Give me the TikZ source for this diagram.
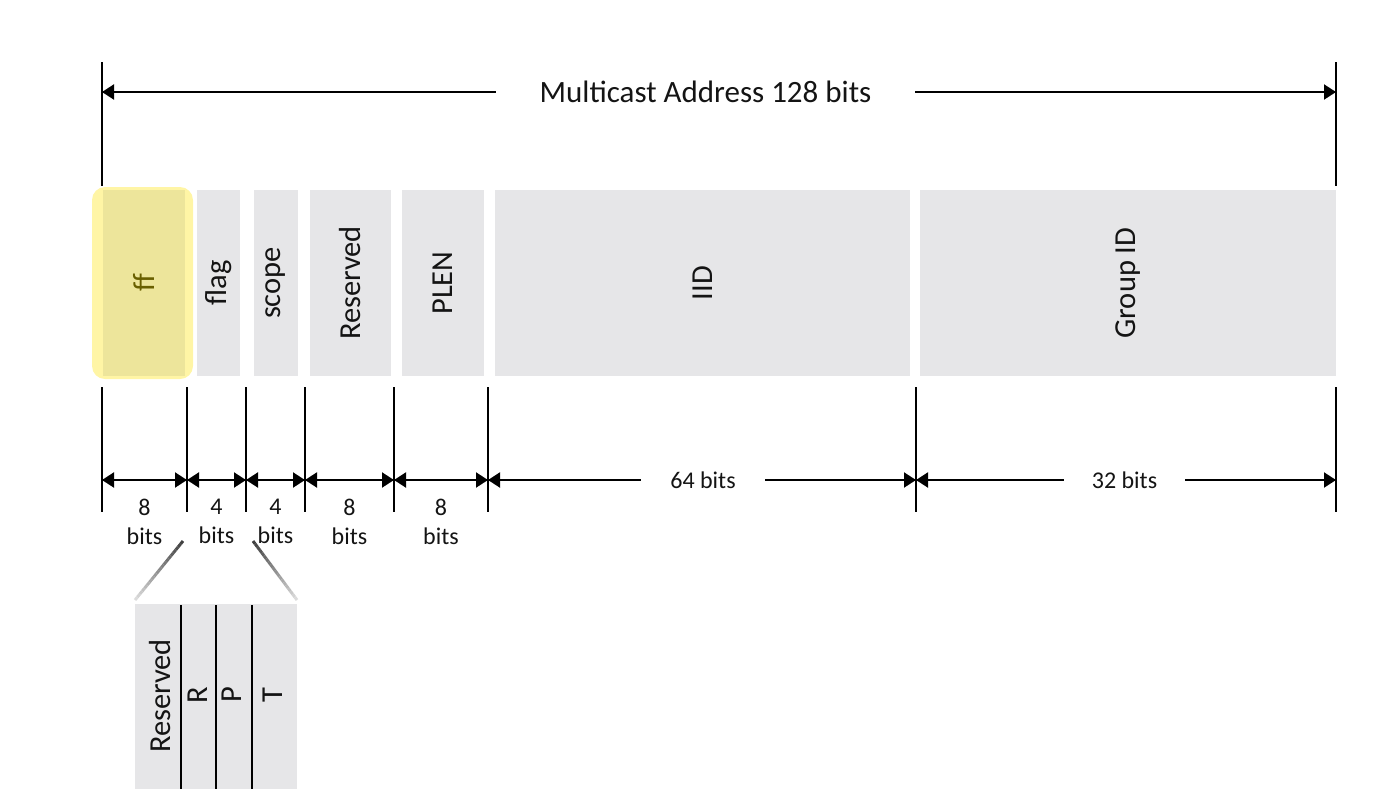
\documentclass[tikz,border=0pt]{standalone}
\usepackage{fontspec}
\setmainfont{Carlito}
\usetikzlibrary{arrows.meta,calc}
\definecolor{boxgray}{RGB}{230,230,232}
\definecolor{glow}{RGB}{255,245,165}
\definecolor{ffin}{RGB}{237,229,155}
\definecolor{fftext}{RGB}{105,95,0}
\definecolor{inkc}{RGB}{20,20,20}
\begin{document}
\begin{tikzpicture}[x=1pt,y=-1pt,
  field/.style={fill=boxgray, inner sep=0pt, outer sep=0pt, rotate=90, minimum width=186pt},
  lab/.style={font=\fontsize{30.5}{32}\selectfont, text=inkc},
  tick/.style={line width=2pt, line cap=butt},
  dim/.style={line width=2pt, {Triangle[length=12pt,width=15pt]}-{Triangle[length=12pt,width=15pt]}},
  bitlbl/.style={font=\fontsize{24}{29}\selectfont, align=center, inner sep=0pt, text=inkc},
  gaplbl/.style={font=\fontsize{24}{26}\selectfont, fill=white, inner ysep=2pt, text=inkc},
]
\useasboundingbox (0,0) rectangle (1386,807);

% ---- top dimension
\coordinate (TLt) at (102,62); \coordinate (TLb) at (102,186);
\coordinate (TRt) at (1336,62); \coordinate (TRb) at (1336,186);
\draw[tick] (TLt) -- (TLb);
\draw[tick] (TRt) -- (TRb);
\coordinate (TL) at (102,92); \coordinate (TR) at (1336,92);
\draw[dim] (TL) -- (TR);
\node[gaplbl, font=\fontsize{31}{33}\selectfont, inner xsep=44pt] (title) at (705.5,92) {Multicast Address 128 bits};

% ---- fields
\fill[glow, rounded corners=13pt] (92,187) rectangle (193,379);
\node[field, fill=ffin, lab, text=fftext, minimum height=82pt] (ff) at (144,283) {ff};
\node[field, lab, minimum height=43pt] (flag) at (218.5,283) {flag};
\node[field, lab, minimum height=44pt] (scope) at (276,283) {scope};
\node[field, lab, minimum height=81pt] (res) at (350.5,283) {Reserved};
\node[field, lab, minimum height=82pt] (plen) at (443,283) {PLEN};
\node[field, lab, minimum height=415pt] (iid) at (702.5,283) {IID};
\node[field, lab, minimum height=416pt] (gid) at (1128,283) {Group ID};

% ---- bottom ticks
\foreach \n/\x in {0/102,1/187,2/246,3/305,4/394,5/488,6/916,7/1336}{
  \coordinate (t\n) at (\x,480);
  \draw[tick] (\x,387) -- (\x,512);
}
\draw[dim] (t0) -- (t1);
\draw[dim] (t1) -- (t2);
\draw[dim] (t2) -- (t3);
\draw[dim] (t3) -- (t4);
\draw[dim] (t4) -- (t5);
\draw[dim] (t5) -- (t6);
\draw[dim] (t6) -- (t7);
\node[gaplbl, inner xsep=29pt] (b64) at (703,480) {64 bits};
\node[gaplbl, inner xsep=28pt] (b32) at (1124.5,480) {32 bits};
\node[bitlbl] (l0) at (144.5,521.5) {8\\bits};
\node[bitlbl] (l1) at (216.5,521.5) {4\\bits};
\node[bitlbl] (l2) at (275.5,521.5) {4\\bits};
\node[bitlbl] (l3) at (349.5,521.5) {8\\bits};
\node[bitlbl] (l4) at (441,521.5) {8\\bits};

% ---- flag detail
\node[fill=boxgray, inner sep=0pt, minimum width=162pt, minimum height=185pt] (detail) at (216,696.5) {};
\foreach \x in {181,216,252}{ \draw[line width=2pt] (\x,605) -- (\x,789); }
\node[lab, rotate=90] (dres) at (160,696) {Reserved};
\node[lab, rotate=90] (dR) at (198,695) {R};
\node[lab, rotate=90] (dP) at (232,695) {P};
\node[lab, rotate=90] (dT) at (273,695) {T};

% ---- fading guide lines
\coordinate (ga1) at (183,541); \coordinate (ga2) at (135,600);
\coordinate (gb1) at (253,541); \coordinate (gb2) at (297,600);
\foreach \i in {0,...,19}{
  \pgfmathsetmacro{\a}{\i/20}
  \pgfmathsetmacro{\b}{(\i+1)/20}
  \pgfmathsetmacro{\c}{75-3.2*\i}
  \draw[line width=3pt, black!\c] ($(ga1)!\a!(ga2)$) -- ($(ga1)!\b!(ga2)$);
  \draw[line width=3pt, black!\c] ($(gb1)!\a!(gb2)$) -- ($(gb1)!\b!(gb2)$);
}
\end{tikzpicture}
\end{document}
